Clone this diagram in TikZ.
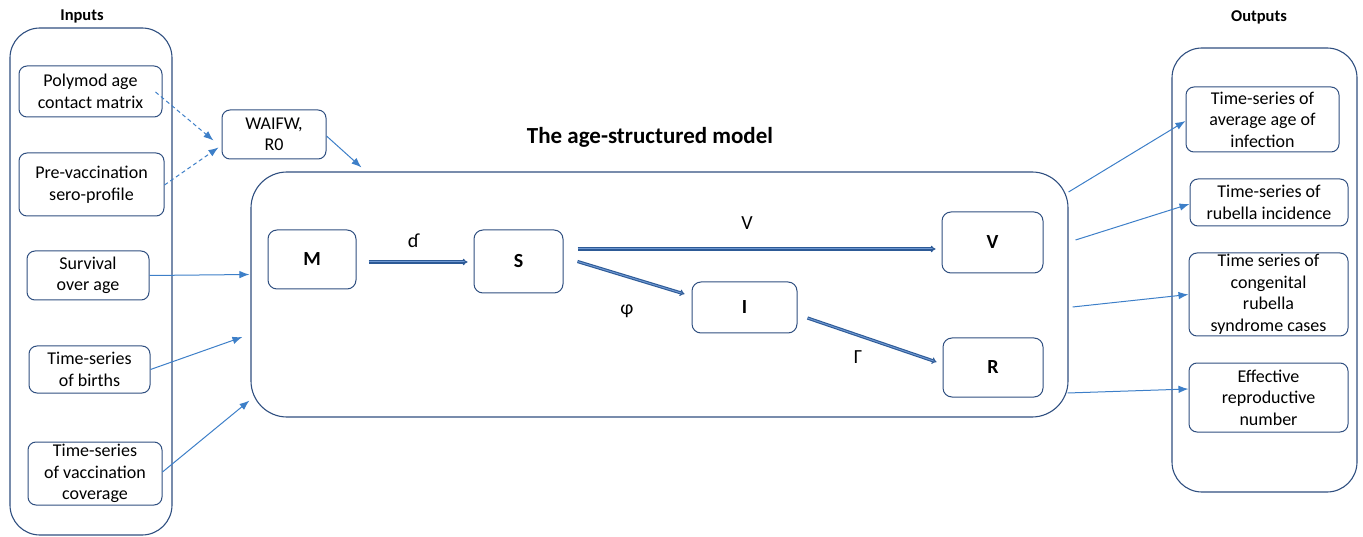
\documentclass[tikz,border=0pt]{standalone}
\usepackage{fontspec}
\setmainfont{Carlito}
\usetikzlibrary{arrows.meta,calc}
\definecolor{boxline}{HTML}{2F4F80}
\definecolor{link}{HTML}{3D7FC8}
\definecolor{flow}{HTML}{2D5A96}
\definecolor{flowin}{HTML}{6F98D2}
\tikzset{
  every node/.style={font=\fontsize{18}{21.5}\selectfont, align=center, inner sep=0pt},
  frame/.style={draw=boxline, line width=1.1pt, rounded corners=30pt},
  item/.style={draw=boxline, line width=1pt, rounded corners=8pt},
  state/.style={draw=boxline, line width=1pt, rounded corners=9pt, font=\fontsize{20}{22}\selectfont\bfseries},
  feed/.style={draw=link, line width=1pt, -{Latex[length=10pt,width=7.5pt]}},
  feeddash/.style={feed, dash pattern=on 4pt off 3pt},
  transfer/.style={draw=flow, double=flowin, line width=1.1pt, double distance=1pt, -{Implies[length=4pt]}},
  rate/.style={font=\fontsize{20}{22}\selectfont},
  heading/.style={font=\fontsize{16.5}{19}\selectfont\bfseries},
}
\begin{document}
\begin{tikzpicture}[x=1pt, y=-1pt]
\useasboundingbox (0,0) rectangle (1363,537);

% column headings and model title
\node[heading] (inhead) at (82,16) {Inputs};
\node[heading] (outhead) at (1259,17) {Outputs};
\node[font=\fontsize{23}{26}\selectfont\bfseries] (title) at (650,137) {The age-structured model};

% input column
\node[frame, minimum width=162pt, minimum height=507pt] (incol) at (91,281.5) {};
\node[item, minimum width=143pt, minimum height=51pt] (polymod) at (90.5,91.5) {Polymod age\\contact matrix};
\node[item, minimum width=145pt, minimum height=63pt] (sero) at (91.5,184.5) {Pre-vaccination\\sero-profile};
\node[item, minimum width=122pt, minimum height=49pt] (surv) at (88,275.5) {Survival\\over age};
\node[item, minimum width=121pt, minimum height=47pt] (births) at (89.5,369.5) {Time-series\\of births};
\node[item, minimum width=134pt, minimum height=63pt] (vacc) at (95,473.5) {Time-series\\of vaccination\\coverage};

% contact parameters
\node[item, minimum width=104pt, minimum height=49pt] (waifw) at (274,134.5) {WAIFW,\\R0};

% model compartments
\node[frame, rounded corners=36pt, minimum width=817pt, minimum height=245pt] (model) at (659.5,294.5) {};
\node[state, minimum width=88pt, minimum height=59pt] (M) at (312,259.5) {M};
\node[state, minimum width=89pt, minimum height=63pt] (S) at (518.5,261.5) {S};
\node[state, minimum width=101pt, minimum height=61pt] (V) at (992.5,242.5) {V};
\node[state, minimum width=105pt, minimum height=51pt] (I) at (744.5,307.5) {I};
\node[state, minimum width=100pt, minimum height=59pt] (R) at (993,367.5) {R};

% output column
\node[frame, minimum width=185pt, minimum height=444pt] (outcol) at (1264.5,270) {};
\node[item, minimum width=153pt, minimum height=65pt] (age) at (1262.5,119.5) {Time-series of\\average age of\\infection};
\node[item, minimum width=158pt, minimum height=47pt] (inc) at (1269,202.5) {Time-series of\\rubella incidence};
\node[item, minimum width=159pt, minimum height=83pt] (crs) at (1268.5,294.5) {Time series of\\congenital\\rubella\\syndrome cases};
\node[item, minimum width=159pt, minimum height=69pt] (reff) at (1268.5,397.5) {Effective\\reproductive\\number};

% inputs feeding the contact parameters and the model
\draw[feeddash] ([xshift=-7pt,yshift=-0.5pt]polymod.east) -- ([xshift=-8pt,yshift=-6pt]waifw.west);
\draw[feeddash] ([yshift=-0.5pt]sero.east) -- ([xshift=-3pt,yshift=12pt]waifw.south west);
\draw[feed] ([yshift=-1.5pt]waifw.east) -- ([xshift=111pt,yshift=4pt]model.north west);
\draw[feed] (surv.east) -- ([xshift=-1pt,yshift=20pt]model.west);
\draw[feed] (births.east) -- ([xshift=-8pt,yshift=-42.5pt]model.west);
\draw[feed] ([yshift=1.5pt]vacc.east) -- ([xshift=-1pt,yshift=17pt]model.south west);

% transitions between compartments
\draw[transfer] ([xshift=12pt,yshift=-2.5pt]M.east) -- ([xshift=-6pt,yshift=-0.5pt]S.west);
\draw[transfer] ([xshift=14pt,yshift=12.5pt]S.east) -- ([xshift=-6pt,yshift=-6.5pt]V.west);
\draw[transfer] ([xshift=14pt]S.east) -- ([xshift=-7pt,yshift=13.5pt]I.west);
\draw[transfer] ([xshift=10pt,yshift=-10.5pt]I.east) -- ([xshift=-6pt,yshift=5.5pt]R.west);
\node[rate] (rd) at (413,241) {ɗ};
\node[rate] (rv) at (747,223) {V};
\node[rate] (rphi) at (627,311) {φ};
\node[rate] (rgam) at (858,357) {Γ};

% model outputs
\draw[feed] ([yshift=102.5pt]model.east) -- ([yshift=-1.5pt]age.west);
\draw[feed] ([xshift=7pt,yshift=54.5pt]model.east) -- ([yshift=-1.5pt]inc.west);
\draw[feed] ([xshift=4pt,yshift=-12.5pt]model.east) -- (crs.west);
\draw[feed] ([xshift=-1pt,yshift=-98.5pt]model.east) -- ([yshift=8.5pt]reff.west);
\end{tikzpicture}
\end{document}
